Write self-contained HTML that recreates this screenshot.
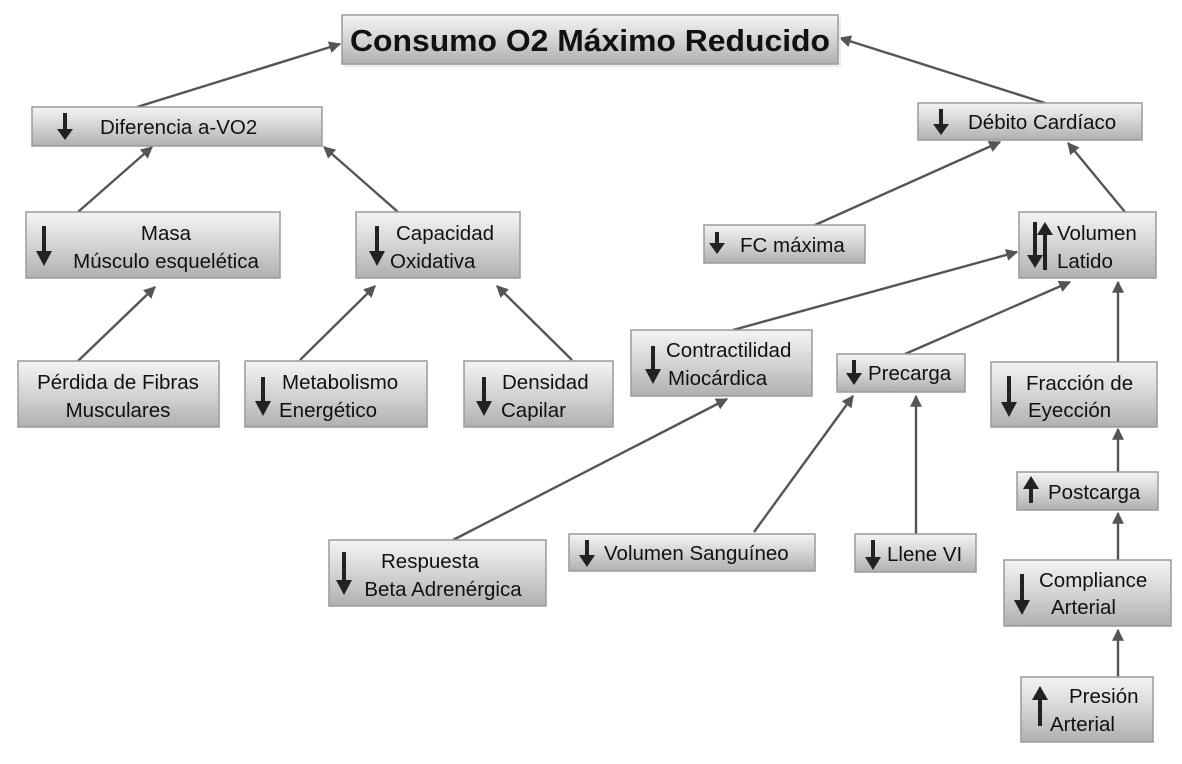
<!DOCTYPE html>
<html><head><meta charset="utf-8"><style>
html,body{margin:0;padding:0;background:#fff;}
svg{display:block;font-family:"Liberation Sans",Arial,sans-serif;}
</style></head><body>
<svg width="1182" height="764" viewBox="0 0 1182 764" xmlns="http://www.w3.org/2000/svg">
<defs>
<linearGradient id="g" x1="0" y1="0" x2="0" y2="1">
<stop offset="0" stop-color="#f4f4f4"/><stop offset="0.5" stop-color="#d4d4d4"/><stop offset="1" stop-color="#b0b0b0"/>
</linearGradient>
<marker id="b" viewBox="0 0 10 10" refX="9" refY="5" markerWidth="14" markerHeight="12" orient="auto" markerUnits="userSpaceOnUse">
<path d="M0,0 L10,5 L0,10 z" fill="#555"/></marker>
</defs>
<g stroke="#555" stroke-width="2.4" fill="none" marker-end="url(#b)">
<line x1="137" y1="107" x2="340" y2="44"/>
<line x1="1045" y1="103" x2="840" y2="38"/>
<line x1="78" y1="212" x2="152" y2="147"/>
<line x1="398" y1="212" x2="324" y2="147"/>
<line x1="78" y1="361" x2="155" y2="287"/>
<line x1="300" y1="360" x2="375" y2="286"/>
<line x1="572" y1="360" x2="497" y2="286"/>
<line x1="815" y1="225" x2="1000" y2="142"/>
<line x1="1125" y1="212" x2="1068" y2="143"/>
<line x1="733" y1="330" x2="1017" y2="252"/>
<line x1="905" y1="354" x2="1070" y2="282"/>
<line x1="1118" y1="362" x2="1118" y2="282"/>
<line x1="453" y1="540" x2="727" y2="399"/>
<line x1="754" y1="532" x2="853" y2="396"/>
<line x1="916" y1="534" x2="916" y2="396"/>
<line x1="1118" y1="472" x2="1118" y2="429"/>
<line x1="1118" y1="560" x2="1118" y2="513"/>
<line x1="1118" y1="677" x2="1118" y2="630"/>
</g>
<g fill="#e8e8e8" opacity="0.8">
<rect x="345" y="18" width="496" height="49"/>
</g>
<g fill="url(#g)" stroke="#9a9a9a" stroke-width="1.5">
<rect x="342" y="15" width="496" height="49"/>
<rect x="32" y="107" width="290" height="39"/>
<rect x="918" y="103" width="224" height="37"/>
<rect x="26" y="212" width="254" height="66"/>
<rect x="356" y="212" width="164" height="66"/>
<rect x="704" y="225" width="161" height="38"/>
<rect x="1019" y="212" width="137" height="66"/>
<rect x="18" y="361" width="201" height="66"/>
<rect x="245" y="361" width="182" height="66"/>
<rect x="464" y="361" width="149" height="66"/>
<rect x="631" y="330" width="181" height="66"/>
<rect x="837" y="354" width="128" height="38"/>
<rect x="991" y="362" width="166" height="65"/>
<rect x="1017" y="472" width="141" height="38"/>
<rect x="1004" y="560" width="167" height="66"/>
<rect x="1021" y="677" width="132" height="65"/>
<rect x="329" y="540" width="217" height="66"/>
<rect x="569" y="534" width="246" height="37"/>
<rect x="855" y="534" width="121" height="38"/>
</g>
<g fill="#111" font-size="20.5">
<text x="350" y="51" font-size="31" font-weight="bold" textLength="480" lengthAdjust="spacingAndGlyphs">Consumo O2 Máximo Reducido</text>
<text x="100" y="134">Diferencia  a-VO2</text>
<text x="968" y="129">Débito Cardíaco</text>
<text x="166" y="240" text-anchor="middle">Masa</text>
<text x="166" y="268" text-anchor="middle">Músculo esquelética</text>
<text x="396" y="240">Capacidad</text>
<text x="390" y="268">Oxidativa</text>
<text x="740" y="252">FC máxima</text>
<text x="1057" y="240">Volumen</text>
<text x="1057" y="268">Latido</text>
<text x="118" y="389" text-anchor="middle">Pérdida de Fibras</text>
<text x="118" y="417" text-anchor="middle">Musculares</text>
<text x="282" y="389">Metabolismo</text>
<text x="279" y="417">Energético</text>
<text x="502" y="389">Densidad</text>
<text x="501" y="417">Capilar</text>
<text x="666" y="357">Contractilidad</text>
<text x="668" y="385">Miocárdica</text>
<text x="868" y="380">Precarga</text>
<text x="1026" y="390">Fracción de</text>
<text x="1028" y="417">Eyección</text>
<text x="1048" y="499">Postcarga</text>
<text x="1039" y="587">Compliance</text>
<text x="1051" y="614">Arterial</text>
<text x="1069" y="703">Presión</text>
<text x="1050" y="731">Arterial</text>
<text x="430" y="568" text-anchor="middle">Respuesta</text>
<text x="443" y="596" text-anchor="middle">Beta Adrenérgica</text>
<text x="604" y="560">Volumen Sanguíneo</text>
<text x="887" y="561">Llene VI</text>
</g>
<g stroke="#222" stroke-width="4" fill="#222">
<path d="M65 113 V133" /><path d="M57 129 L65 140 L73 129z" stroke="none"/>
<path d="M941 109 V127" /><path d="M933 124 L941 135 L949 124z" stroke="none"/>
<path d="M44 226 V256" /><path d="M36 251 L44 266 L52 251z" stroke="none"/>
<path d="M377 226 V256" /><path d="M369 251 L377 266 L385 251z" stroke="none"/>
<path d="M717 232 V245" /><path d="M709 243 L717 254 L725 243z" stroke="none"/>
<path d="M1035 222 V260" /><path d="M1027 255 L1035 268 L1043 255z" stroke="none"/>
<path d="M1045 230 V270" /><path d="M1037 235 L1045 222 L1053 235z" stroke="none"/>
<path d="M263 377 V405" /><path d="M255 401 L263 416 L271 401z" stroke="none"/>
<path d="M484 377 V405" /><path d="M476 401 L484 416 L492 401z" stroke="none"/>
<path d="M653 346 V372" /><path d="M645 369 L653 384 L661 369z" stroke="none"/>
<path d="M854 360 V375" /><path d="M846 373 L854 385 L862 373z" stroke="none"/>
<path d="M1009 376 V406" /><path d="M1001 402 L1009 417 L1017 402z" stroke="none"/>
<path d="M1031 487 V503" /><path d="M1023 489 L1031 476 L1039 489z" stroke="none"/>
<path d="M1022 574 V604" /><path d="M1014 600 L1022 615 L1030 600z" stroke="none"/>
<path d="M1040 696 V726" /><path d="M1032 700 L1040 686 L1048 700z" stroke="none"/>
<path d="M344 552 V584" /><path d="M336 580 L344 595 L352 580z" stroke="none"/>
<path d="M587 540 V558" /><path d="M579 555 L587 567 L595 555z" stroke="none"/>
<path d="M873 540 V560" /><path d="M865 557 L873 570 L881 557z" stroke="none"/>
</g>
</svg>
</body></html>
